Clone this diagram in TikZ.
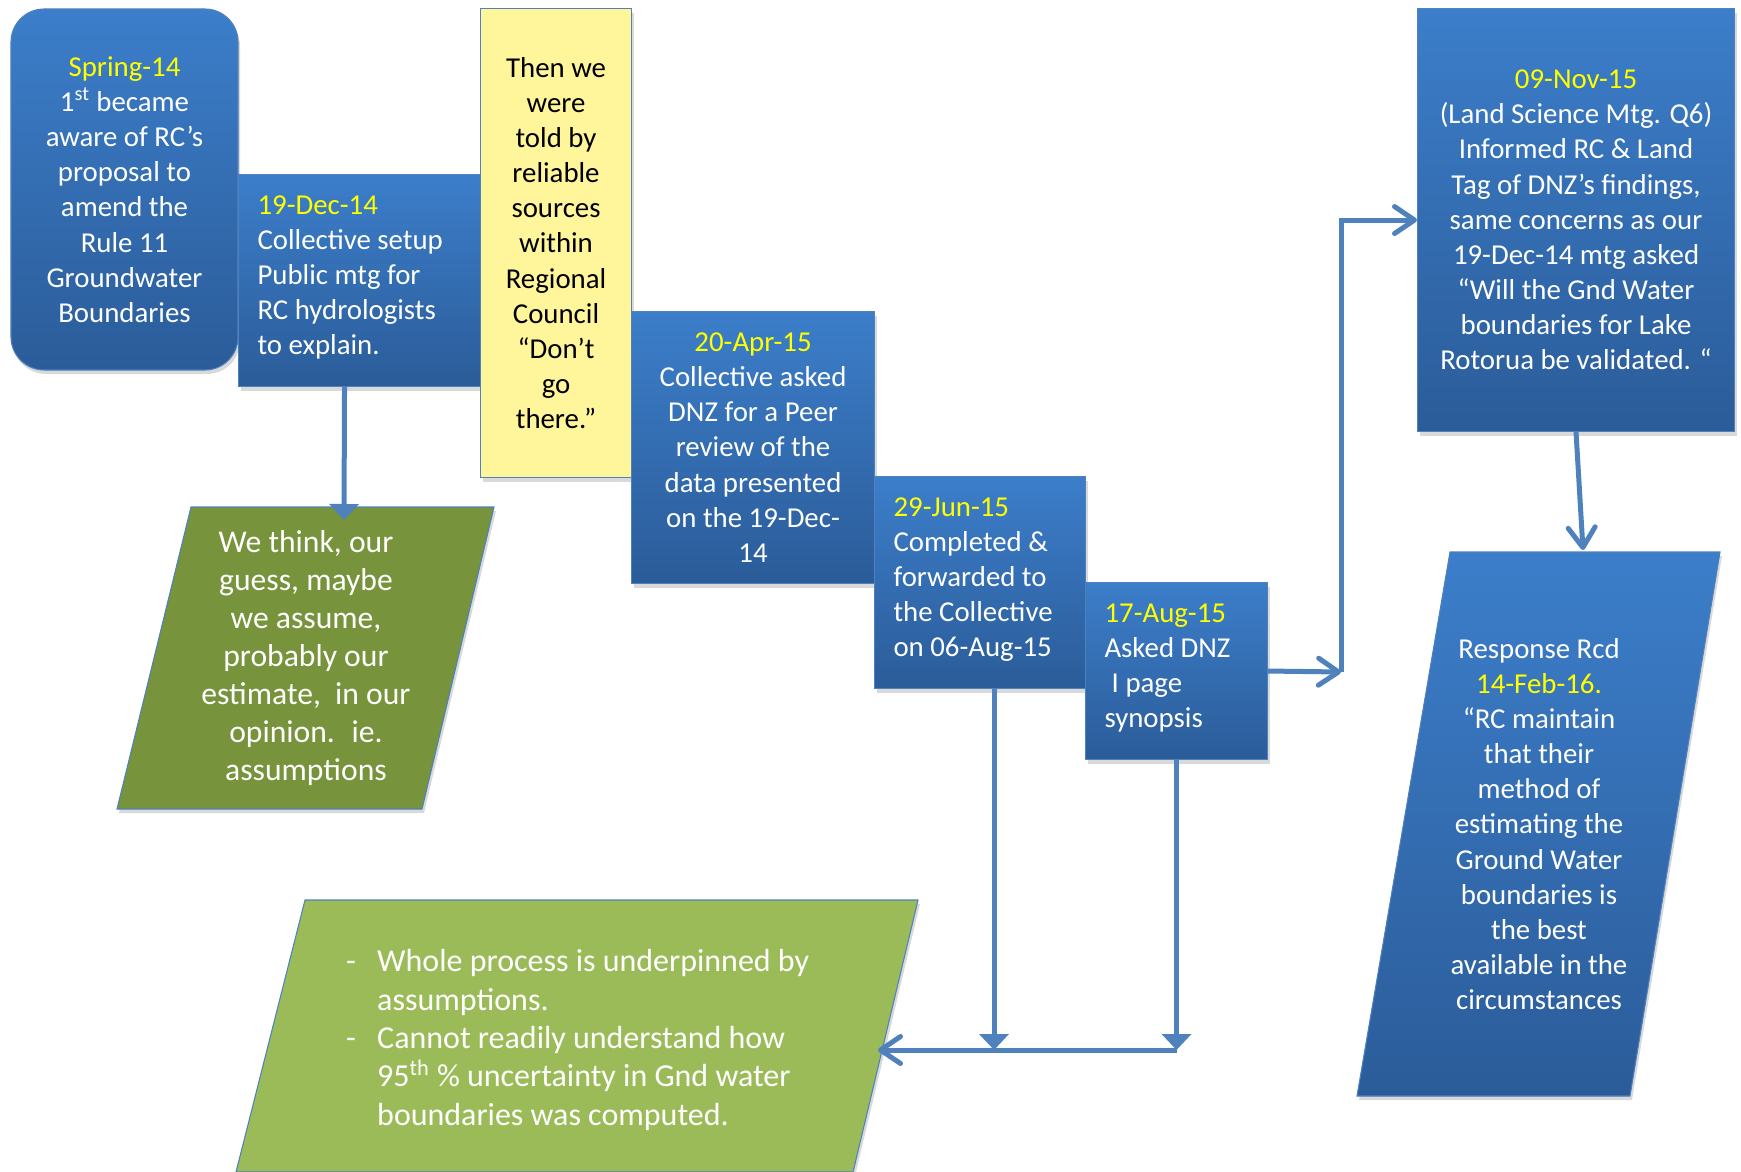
\documentclass[tikz,border=0pt]{standalone}
\usepackage{fontspec}
\setmainfont{Carlito}
\usetikzlibrary{arrows.meta, positioning, shapes.geometric, shadows, calc}
\definecolor{rcblue}{HTML}{3C7ECA}
\definecolor{rcbluedark}{HTML}{2B5C99}
\definecolor{rcedge}{HTML}{4F81BD}
\definecolor{rcdate}{HTML}{FFFF00}
\definecolor{rcyellow}{HTML}{FFF59B}
\definecolor{rcolive}{HTML}{77933C}
\definecolor{rclime}{HTML}{9BBB59}
\newcommand{\dte}[1]{{\color{rcdate}#1}\\}
\newcommand{\lift}{\\[-4.85mm]\mbox{}}

\begin{document}
\begin{tikzpicture}[x=0.2mm, y=-0.2mm,
  card/.style={rectangle, draw=rcedge, line width=0.6pt, inner sep=0pt,
    font=\fontsize{16.4}{20}\selectfont, align=center,
    drop shadow={shadow xshift=0.4mm, shadow yshift=-0.8mm, opacity=0.3}},
  evt/.style={card, top color=rcblue, bottom color=rcbluedark, text=white},
  evtl/.style={evt, align=flush left, inner xsep=3.8mm, text width=#1},
  slant/.style={draw=rcedge, line width=0.6pt, fill=#1,
    drop shadow={shadow xshift=0.4mm, shadow yshift=-0.8mm, opacity=0.3}},
  words/.style={text=white, font=\fontsize{18}{22}\selectfont, align=center},
  link/.style={draw=rcedge, line width=1mm},
  down/.style={link, -{Triangle[width=5.8mm, length=3.2mm]}},
  open/.style={link, -{Straight Barb[width=5.4mm, length=4mm, round]}},
]
  \useasboundingbox (0,0) rectangle (1741,1172);

  \node[evt, rounded corners=6.6mm, minimum width=45.4mm, minimum height=72.2mm] (spring14) at (124.5,189.5) {
    \dte{Spring-14}
    1\textsuperscript{st} became\\ aware of RC’s\\ proposal to\\ amend the\\ Rule 11\\ Groundwater\\ Boundaries
  };
  \node[evtl=40.8mm, minimum height=42.4mm, anchor=north west] (dec14) at (238,174) {
    \dte{19-Dec-14}
    Collective setup\\ Public mtg for\\ RC hydrologists\\ to explain.\lift
  };
  \node[card, fill=rcyellow, text=black, minimum width=30.2mm, minimum height=93.8mm, anchor=north west] (told) at (480,8) {
    Then we\\ were\\ told by\\ reliable\\ sources\\ within\\ Regional\\ Council\\ “Don’t\\ go\\ there.”
  };
  \node[evt, minimum width=48.6mm, minimum height=54.4mm, anchor=north west] (apr15) at (631,311) {
    \dte{20-Apr-15}
    Collective asked\\ DNZ for a Peer\\ review of the\\ data presented\\ on the 19-Dec-\\ 14
  };
  \node[evtl=34.6mm, minimum height=42.4mm, anchor=north west] (jun15) at (874,476) {
    \dte{29-Jun-15}
    Completed \&\\ forwarded to\\ the Collective\\ on 06-Aug-15\lift
  };
  \node[evtl=28.8mm, minimum height=35.4mm, anchor=north west] (aug15) at (1085,582) {
    \dte{17-Aug-15}
    Asked DNZ\\ \hspace*{0.25em}I page\\ synopsis\lift
  };
  \node[evt, minimum width=63.4mm, minimum height=84.6mm, anchor=north west] (nov15) at (1417,8) {
    \dte{09-Nov-15}
    (Land Science Mtg. Q6)\\ Informed RC \& Land\\ Tag of DNZ’s findings,\\ same concerns as our\\
    19-Dec-14 mtg asked\\ “Will the Gnd Water\\ boundaries for Lake\\ Rotorua be validated. “
  };

  \path[slant=rcolive] (191,507) -- (494,507) -- (422,809) -- (117,809) -- cycle;
  \node[words, font=\fontsize{18}{21.6}\selectfont] (guess) at (306,658) {
    We think, our\\ guess, maybe\\ we assume,\\ probably our\\ estimate,~ in our\\ opinion.~ ie.\\ assumptions
  };
  \path[slant=rclime] (305,900) -- (918,900) -- (853,1172) -- (236,1172) -- cycle;
  \node[words, align=flush left, anchor=west, font=\fontsize{18.2}{21.8}\selectfont] (summary) at (340,1040) {
    \makebox[6.2mm][l]{-}Whole process is underpinned by\\
    \makebox[6.2mm][l]{}assumptions.\\
    \makebox[6.2mm][l]{-}Cannot readily understand how\\
    \makebox[6.2mm][l]{}95\textsuperscript{th} \% uncertainty in Gnd water\\
    \makebox[6.2mm][l]{}boundaries was computed.
  };
  \path[slant=rcblue, top color=rcblue, bottom color=rcbluedark] (1450,552) -- (1720,552) -- (1630,1096) -- (1357,1096) -- cycle;
  \node[words, font=\fontsize{16.4}{20}\selectfont] (resp16) at (1539,824) {
    Response Rcd\\ \dte{14-Feb-16.}
    “RC maintain\\ that their\\ method of\\ estimating the\\ Ground Water\\ boundaries is\\ the best\\ available in the\\ circumstances
  };

  \coordinate (guesstop) at (344,520);
  \coordinate (resptop) at (1583,550);
  \coordinate (elbow) at (1341,672);
  \coordinate (sumin) at (878,1050);
  \coordinate (decout) at ($(dec14.south)+(-15,0)$);
  \coordinate (junout) at ($(jun15.south)+(14,0)$);

  \draw[down] (decout) -- (guesstop);
  \draw[open] (nov15.south) -- (resptop);
  \draw[open] (aug15.east) -- (elbow);
  \draw[open] (elbow) |- (nov15.west);
  \draw[down] (junout) -- (junout |- sumin);
  \draw[down] (aug15.south) -- (aug15.south |- sumin);
  \draw[open] (aug15.south |- sumin) -- (sumin);
\end{tikzpicture}
\end{document}
